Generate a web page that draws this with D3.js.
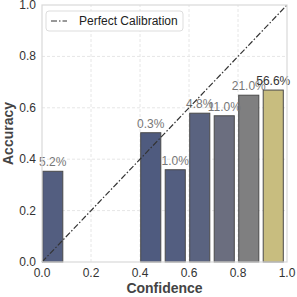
<!DOCTYPE html>
<html>
<head>
<meta charset="utf-8">
<script src="https://cdn.jsdelivr.net/npm/d3@7"></script>
<style>
  body { margin: 0; background: #fff; }
  text { font-family: "Liberation Sans", Arial, sans-serif; }
</style>
</head>
<body>
<div id="app"></div>
<script>

// bins (lower edge), accuracy per bin, share of samples per bin
const binStarts = [0.0, 0.4, 0.5, 0.6, 0.7, 0.8, 0.9]
const accuracy = [0.353, 0.503, 0.359, 0.579, 0.569, 0.649, 0.669]
const shares = ['5.2%', '0.3%', '1.0%', '4.8%', '11.0%', '21.0%', '56.6%']
const barColors = ['#535e80', '#4f5b7f', '#535e80', '#5a6380', '#6b6e7f', '#7f7f80', '#c8bd7f']
const ticks = [0, 0.2, 0.4, 0.6, 0.8, 1.0]

const width = 297
const height = 297
const margin = { top: 5, right: 10, bottom: 35, left: 42 }
const binWidth = 0.1
const barWidth = 0.082

const svg = d3.select('#app').append('svg')
  .attr('width', width)
  .attr('height', height)

const x = d3.scaleLinear().domain([0, 1]).range([margin.left, width - margin.right])
const y = d3.scaleLinear().domain([0, 1]).range([height - margin.bottom, margin.top])

// grid
svg.append('g')
  .selectAll('line.gx').data(ticks.slice(1, -1)).join('line')
  .attr('x1', d => x(d)).attr('x2', d => x(d))
  .attr('y1', y(0)).attr('y2', y(1))
  .attr('stroke', '#e6e6e6').attr('stroke-dasharray', '3,2')
svg.append('g')
  .selectAll('line.gy').data(ticks.slice(1, -1)).join('line')
  .attr('y1', d => y(d)).attr('y2', d => y(d))
  .attr('x1', x(0)).attr('x2', x(1))
  .attr('stroke', '#e6e6e6').attr('stroke-dasharray', '3,2')

// bars
svg.append('g')
  .selectAll('rect').data(binStarts).join('rect')
  .attr('x', d => x(d + binWidth / 2 - barWidth / 2) - 1.5)
  .attr('width', x(barWidth) - x(0))
  .attr('y', (d, i) => y(accuracy[i]))
  .attr('height', (d, i) => y(0) - y(accuracy[i]))
  .attr('fill', (d, i) => barColors[i])
  .attr('stroke', '#4a4a4a')
  .attr('stroke-width', 1)

// percentage labels
svg.append('g')
  .selectAll('text').data(binStarts).join('text')
  .attr('x', d => x(d + binWidth / 2) - 1.5)
  .attr('y', (d, i) => y(accuracy[i]) - 5)
  .attr('text-anchor', 'middle')
  .attr('font-size', 12)
  .attr('fill', (d, i) => i === binStarts.length - 1 ? '#333' : '#777')
  .text((d, i) => shares[i])

// perfect calibration diagonal
svg.append('line')
  .attr('x1', x(0)).attr('y1', y(0))
  .attr('x2', x(1)).attr('y2', y(1))
  .attr('stroke', '#333').attr('stroke-width', 1.2)
  .attr('stroke-dasharray', '6,2,1.5,2')

// frame
svg.append('rect')
  .attr('x', x(0)).attr('y', y(1))
  .attr('width', x(1) - x(0)).attr('height', y(0) - y(1))
  .attr('fill', 'none').attr('stroke', '#d9d9d9').attr('stroke-width', 1.2)

// tick labels
svg.append('g')
  .selectAll('text').data(ticks).join('text')
  .attr('x', d => x(d)).attr('y', y(0) + 15)
  .attr('text-anchor', 'middle').attr('font-size', 12).attr('fill', '#333')
  .text(d3.format('.1f'))
svg.append('g')
  .selectAll('text').data(ticks).join('text')
  .attr('x', x(0) - 6).attr('y', d => y(d) + 4)
  .attr('text-anchor', 'end').attr('font-size', 12).attr('fill', '#333')
  .text(d3.format('.1f'))

// axis titles
svg.append('text')
  .attr('x', (x(0) + x(1)) / 2).attr('y', height - 4)
  .attr('text-anchor', 'middle').attr('font-size', 14).attr('font-weight', 'bold').attr('fill', '#444')
  .text('Confidence')
svg.append('text')
  .attr('transform', `translate(13, ${(y(0) + y(1)) / 2}) rotate(-90)`)
  .attr('text-anchor', 'middle').attr('font-size', 14).attr('font-weight', 'bold').attr('fill', '#444')
  .text('Accuracy')

// legend
const legend = svg.append('g').attr('transform', 'translate(46, 11)')
legend.append('rect')
  .attr('width', 137).attr('height', 20).attr('rx', 3)
  .attr('fill', '#fff').attr('stroke', '#ddd')
legend.append('line')
  .attr('x1', 5).attr('x2', 21).attr('y1', 10).attr('y2', 10)
  .attr('stroke', '#333').attr('stroke-dasharray', '6,2,1.5,2')
legend.append('text')
  .attr('x', 33).attr('y', 14)
  .attr('font-size', 12).attr('fill', '#222')
  .text('Perfect Calibration')

</script>
</body>
</html>
